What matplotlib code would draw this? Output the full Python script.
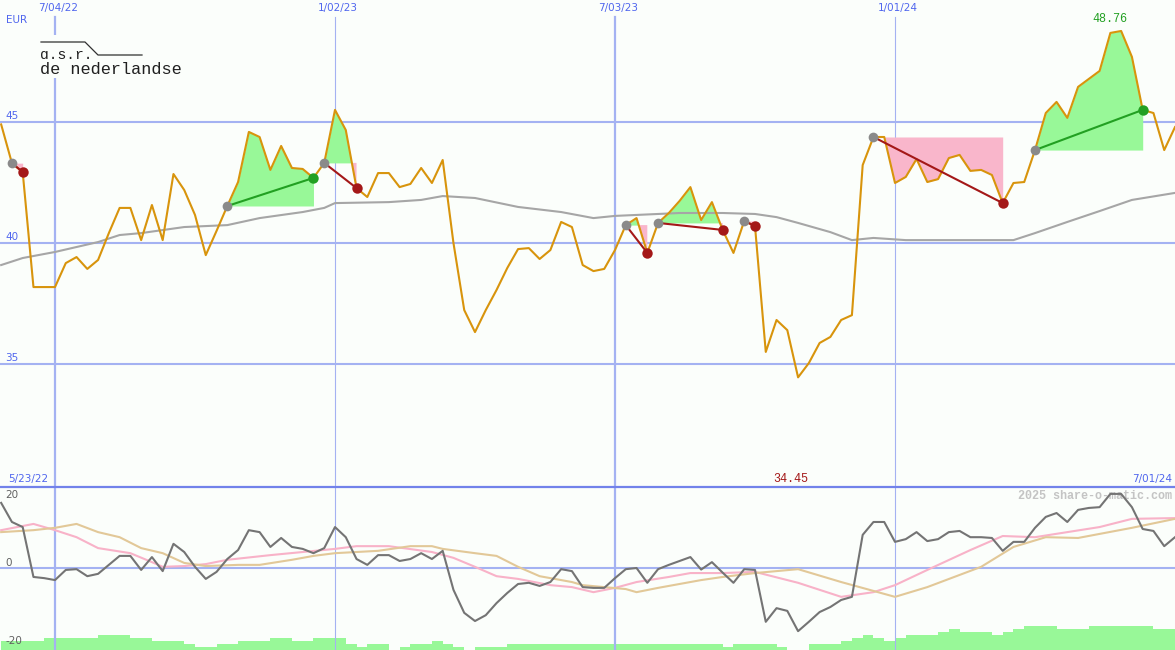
import numpy as np
import matplotlib
matplotlib.use('Agg')
import matplotlib.pyplot as plt
from matplotlib.lines import Line2D
from matplotlib.patches import Rectangle
from matplotlib.transforms import blended_transform_factory

# weekly closes (EUR), week 0 = 5/30/22
price = [44.90, 43.30, 42.93, 38.18, 38.18, 38.18, 39.17, 39.42, 38.93, 39.30,
         40.41, 41.45, 41.45, 40.12, 41.57, 40.12, 42.85, 42.19, 41.16, 39.50,
         40.50, 41.53, 42.52, 44.59, 44.38, 43.02, 44.01, 43.10, 43.06, 42.69,
         43.31, 45.50, 44.67, 42.27, 41.90, 42.89, 42.89, 42.31, 42.44, 43.10,
         42.48, 43.43, 40.00, 37.23, 36.32, 37.23, 38.06, 38.97, 39.75, 39.79,
         39.34, 39.71, 40.87, 40.66, 39.09, 38.84, 38.93, 39.71, 40.74, 41.03,
         39.59, 40.83, 41.24, 41.74, 42.31, 40.95, 41.69, 40.54, 39.59, 40.91,
         40.70, 35.50, 36.82, 36.40, 34.45, 35.04, 35.87, 36.12, 36.82, 37.02,
         43.22, 44.38, 44.38, 42.48, 42.73, 43.47, 42.52, 42.64, 43.51, 43.64,
         42.98, 43.02, 42.81, 41.65, 42.48, 42.52, 43.84, 45.37, 45.83, 45.17,
         46.45, 46.78, 47.11, 48.68, 48.76, 47.69, 45.50, 45.37, 43.84, 44.79]

# long moving average (grey line)
ma_weeks = [0, 2, 5, 9, 11, 13, 17, 21, 24, 28, 30, 31, 36, 39, 41, 44, 48, 52,
            55, 57, 63, 67, 70, 72, 74, 77, 79, 81, 84, 94, 96, 99, 102, 105, 109]
ma_vals = [39.09, 39.38, 39.63, 40.04, 40.33, 40.41, 40.66, 40.74, 41.03, 41.28,
           41.45, 41.65, 41.69, 41.78, 41.94, 41.86, 41.49, 41.28, 41.03, 41.12,
           41.24, 41.24, 41.20, 41.07, 40.83, 40.45, 40.12, 40.21, 40.12, 40.12,
           40.41, 40.87, 41.32, 41.78, 42.07]

# lower panel oscillator (dark grey)
osc = [16.7, 11.8, 10.5, -2.3, -2.6, -3.1, -0.5, -0.3, -2.1, -1.5,
       0.8, 3.1, 3.1, -0.5, 2.8, -0.8, 6.2, 4.1, 0.3, -2.8,
       -1.0, 2.3, 4.6, 9.7, 9.2, 5.4, 7.7, 5.4, 4.9, 3.8,
       5.1, 10.5, 7.9, 2.3, 0.8, 3.3, 3.3, 1.8, 2.3, 3.8,
       2.3, 4.4, -5.6, -11.5, -13.6, -12.1, -9.0, -6.4, -4.1, -3.8,
       -4.6, -3.6, -0.3, -0.8, -4.9, -5.1, -5.1, -2.6, -0.3, 0.0,
       -3.8, -0.3, 0.8, 1.8, 2.8, -0.4, 1.5, -1.2, -3.8, -0.3,
       -0.5, -13.8, -10.3, -11.0, -16.2, -13.8, -11.3, -10.0, -8.2, -7.4,
       8.5, 11.8, 11.8, 6.7, 7.4, 9.2, 6.9, 7.4, 9.2, 9.5,
       7.9, 7.9, 7.7, 4.4, 6.7, 6.7, 10.3, 13.1, 14.1, 11.8,
       14.9, 15.4, 15.6, 19.0, 19.0, 15.6, 10.0, 9.5, 5.6, 7.9]

pink_weeks = [0, 3, 5, 7, 9, 12, 14, 15, 17, 19, 21, 25, 28, 31, 33, 36, 40, 42,
              44, 46, 48, 51, 53, 55, 57, 59, 62, 64, 67, 70, 74, 78, 81, 83, 86,
              90, 93, 96, 99, 102, 105, 109]
pink_vals = [9.7, 11.3, 9.7, 7.9, 5.1, 3.8, 1.5, 0.3, 0.5, 1.0, 2.1, 3.3, 4.1, 4.9,
             5.6, 5.6, 4.1, 2.6, 0.3, -2.1, -2.8, -4.4, -4.9, -6.2, -5.1, -3.6,
             -2.3, -1.3, -1.3, -1.0, -3.8, -7.4, -6.2, -4.4, -0.5, 4.6, 8.2, 7.9,
             9.2, 10.5, 12.6, 12.8]

tan_weeks = [0, 3, 5, 7, 9, 11, 13, 15, 17, 19, 22, 24, 27, 29, 31, 33, 35, 38,
             40, 41, 44, 46, 48, 50, 53, 54, 56, 58, 59, 61, 65, 67, 70, 74, 78,
             83, 86, 91, 94, 97, 100, 105, 109]
tan_vals = [9.2, 9.7, 10.3, 11.3, 9.2, 7.9, 5.1, 3.8, 1.3, 0.5, 0.8, 0.8, 2.1, 3.1,
            3.8, 4.1, 4.4, 5.6, 5.6, 4.9, 3.8, 3.1, 0.3, -2.1, -3.6, -4.4, -4.9,
            -5.4, -6.2, -5.1, -3.1, -2.3, -1.3, -0.3, -3.6, -7.4, -4.9, 0.3, 5.4,
            7.9, 7.7, 10.3, 12.6]

# volume level per week
volume = [3, 3, 3, 3, 4, 4, 4, 4, 4, 5, 5, 5, 4, 4, 3, 3, 3, 2, 1, 1,
          2, 2, 3, 3, 3, 4, 4, 3, 3, 4, 4, 4, 2, 1, 2, 2, 0, 1, 2, 2,
          3, 2, 1, 0, 1, 1, 1, 2, 2, 2, 2, 2, 2, 2, 2, 2, 2, 2, 2, 2,
          2, 2, 2, 2, 2, 2, 2, 1, 2, 2, 2, 2, 1, 0, 0, 2, 2, 2, 3, 4,
          5, 4, 3, 4, 5, 5, 5, 6, 7, 6, 6, 6, 5, 6, 7, 8, 8, 8, 7, 7,
          7, 8, 8, 8, 8, 8, 8, 7, 7]

# trades (start week, end week)
trade_start = [1, 21, 30, 58, 61, 69, 81, 96]
trade_end = [2, 29, 33, 60, 67, 70, 93, 106]

date_ticks = [5, 31, 57, 83]
date_labels = ['7/04/22', '1/02/23', '7/03/23', '1/01/24']
price_ticks = [45, 40, 35]
osc_ticks = [20, 0, -20]

bg = '#fbfefb'
grid = '#a4b2f2'
blue = '#5066ee'
orange = '#d8940c'
green_fill = '#98f898'
pink_fill = '#f9b6cb'
dark_red = '#a41818'
dark_green = '#22a022'

W, H = 1175, 650
split = 163 / H
fig = plt.figure(figsize=(W / 100, H / 100), dpi=100, facecolor=bg)

ax = fig.add_axes([0, split, 1, 1 - split])
ax.set_xlim(-0.107, 109.0)
ax.set_ylim(29.92, 50.04)
ax.axis('off')

p = np.array(price)
weeks = np.arange(len(p))

for v in price_ticks:
    ax.axhline(v, color=grid, lw=1.5, zorder=1)
for i, d in enumerate(date_ticks):
    ax.axvline(d, ymax=0.965, color=grid, lw=1.6 if i % 2 == 0 else 0.8, zorder=1)

for s, e in zip(trade_start, trade_end):
    xs = weeks[s:e + 1]
    ys = p[s:e + 1]
    lvl = p[s]
    ax.fill_between(xs, ys, lvl, where=ys >= lvl, interpolate=True, color=green_fill, lw=0, zorder=2)
    ax.fill_between(xs, ys, lvl, where=ys <= lvl, interpolate=True, color=pink_fill, lw=0, zorder=2)

ax.plot(ma_weeks, ma_vals, color='#a6a6a6', lw=1.5, zorder=3)
ax.plot(weeks, p, color=orange, lw=1.5, zorder=4)

for s, e in zip(trade_start, trade_end):
    c = dark_green if p[e] > p[s] else dark_red
    ax.plot([s, e], [p[s], p[e]], color=c, lw=1.5, zorder=5)
    ax.plot(s, p[s], 'o', color='#8a8a8a', ms=7, mec='none', zorder=6)
    ax.plot(e, p[e], 'o', color=c, ms=7.5, mec='none', zorder=6)

bt = blended_transform_factory(ax.transAxes, ax.transData)
for v in price_ticks:
    ax.text(5 / W, v + 0.05, str(v), transform=bt, color=blue, fontsize=7.5, va='bottom')

top_y = 1 - 8 / 487
for d, lab in zip(date_ticks, date_labels):
    ax.text(d + 0.3, top_y, lab, transform=blended_transform_factory(ax.transData, ax.transAxes),
            color=blue, fontsize=7.5, ha='center', va='center')
ax.text(6 / W, 1 - 20 / 487, 'EUR', transform=ax.transAxes, color=blue, fontsize=7.5, va='center')

kmax = int(np.argmax(p))
ax.annotate(f'{p[kmax]:.2f}', (kmax, p[kmax]), xytext=(-11, 12), textcoords='offset pixels',
            ha='center', va='center', color=dark_green, fontsize=8.5, family='Liberation Mono')
kmin = int(np.argmin(p))
low_y = 1 - 479 / 487
ax.text(kmin - 0.65, low_y, f'{p[kmin]:.2f}', transform=blended_transform_factory(ax.transData, ax.transAxes),
        ha='center', va='center', color=dark_red, fontsize=8.5, family='Liberation Mono')
ax.text(8 / W, low_y, '5/23/22', transform=ax.transAxes, color=blue, fontsize=7.5, va='center')
ax.text(1172 / W, low_y, '7/01/24', transform=ax.transAxes, color=blue, fontsize=7.5, va='center', ha='right')

# logo
fx = lambda x: x / W
fy = lambda y: 1 - y / 487
ax.add_patch(Rectangle((fx(36), fy(78)), fx(155), (78 - 35) / 487, transform=ax.transAxes,
                       facecolor=bg, edgecolor='none', zorder=7))
ax.plot([fx(41), fx(85), fx(98), fx(142)], [fy(42), fy(42), fy(55), fy(55)],
        transform=ax.transAxes, color='#303030', lw=0.9, zorder=8)
ax.text(fx(40), fy(59), 'ɑ.s.r.', transform=ax.transAxes, color='#202020', fontsize=10.5,
        family=['Liberation Mono', 'DejaVu Sans Mono'], va='baseline', zorder=8)
ax.text(fx(40), fy(74), 'de nederlandse', transform=ax.transAxes, color='#202020', fontsize=12.2,
        family=['Liberation Mono', 'DejaVu Sans Mono'], va='baseline', zorder=8)

# lower panel
axv = fig.add_axes([0, 0, 1, split])
axv.set_xlim(-0.107, 109.0)
axv.set_ylim(0, 163 / 3)
axv.axis('off')
axv.bar(np.arange(len(volume)), volume, width=1, align='edge', color='#98f898', lw=0)

ax2 = fig.add_axes([0, 0, 1, split])
ax2.set_xlim(-0.107, 109.0)
ax2.set_ylim(-21.03, 20.77)
ax2.axis('off')
ax2.axhline(0, color=grid, lw=1.5, zorder=1)
for i, d in enumerate(date_ticks):
    ax2.axvline(d, color=grid, lw=1.6 if i % 2 == 0 else 0.8, zorder=1)
ax2.plot(pink_weeks, pink_vals, color='#f8b2c8', lw=1.5, zorder=3)
ax2.plot(tan_weeks, tan_vals, color='#e2c898', lw=1.5, zorder=3)
ax2.plot(weeks, osc, color='#747474', lw=1.5, zorder=4)

bt2 = blended_transform_factory(ax2.transAxes, ax2.transData)
for v in osc_ticks:
    ax2.text(5 / W, v, str(v), transform=bt2, color='#606060', fontsize=7.5,
             va='top' if v > 0 else 'bottom')
ax2.text(1172 / W, (650 - 496) / 163, '2025 share-o-matic.com', transform=ax2.transAxes,
         ha='right', va='center', color='#c4c4c4', fontsize=8.5, family='Liberation Mono',
         weight='bold')

fig.add_artist(Line2D([0, 1], [split, split], transform=fig.transFigure, color='#7282ea', lw=1.6))

fig.savefig('out.png', dpi=100, facecolor=bg)
